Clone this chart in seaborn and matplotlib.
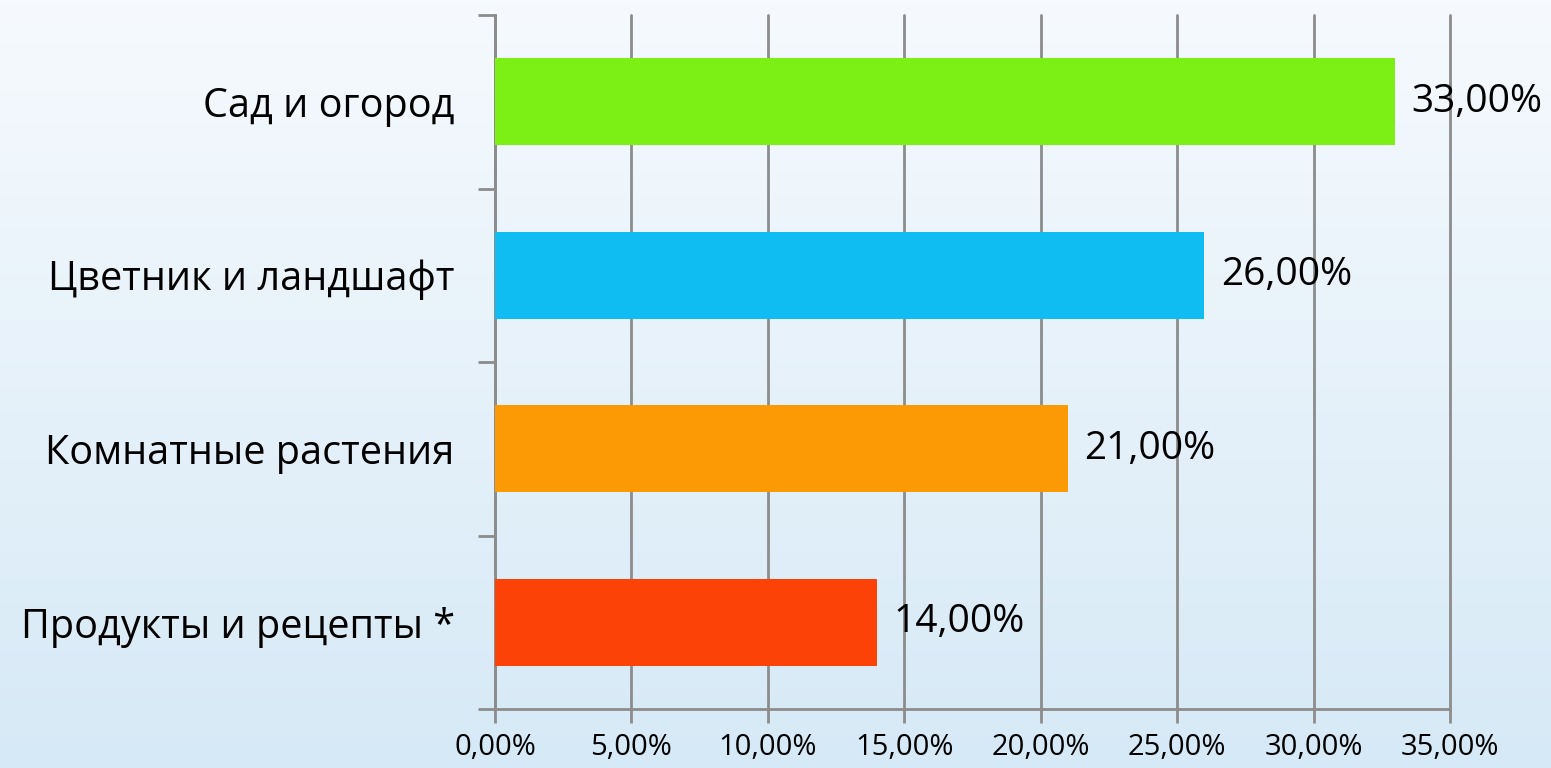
import numpy as np
import pandas as pd
import matplotlib
matplotlib.use("Agg")
import matplotlib.pyplot as plt
import seaborn as sns
from matplotlib.ticker import FuncFormatter, FixedLocator

categories = ["Сад и огород", "Цветник и ландшафт", "Комнатные растения", "Продукты и рецепты *"]
values = [33.0, 26.0, 21.0, 14.0]
colors = ["#7cf014", "#0fbdf2", "#fb9a05", "#fc4207"]
xticks = [0, 5, 10, 15, 20, 25, 30, 35]

sns.set_style("white")
plt.rcParams["font.family"] = ["Open Sans", "DejaVu Sans"]

df = pd.DataFrame({"cat": categories, "val": values})

fig = plt.figure(figsize=(15.51, 7.68), dpi=100)

# background gradient
bg = fig.add_axes([0, 0, 1, 1], zorder=-10)
grad = np.linspace(0, 1, 256).reshape(-1, 1)
top = np.array([0.965, 0.98, 0.995])
bot = np.array([0.84, 0.915, 0.965])
img = top[None, None, :] * (1 - grad[:, :, None]) + bot[None, None, :] * grad[:, :, None]
bg.imshow(img, aspect="auto", extent=[0, 1, 0, 1])
bg.axis("off")

ax = fig.add_axes([495 / 1551, 1 - 709 / 768, (1450 - 495) / 1551, (709 - 15) / 768])
ax.patch.set_alpha(0)

sns.barplot(data=df, x="val", y="cat", hue="cat", palette=colors, orient="h",
            width=0.5, ax=ax, legend=False, zorder=3, saturation=1,
            linewidth=0, edgecolor="none")

ax.set_xlim(0, 35)
ax.set_ylim(3.5, -0.5)
ax.set_xticks(xticks)
ax.xaxis.set_major_formatter(FuncFormatter(lambda v, p: f"{v:.2f}%".replace(".", ",")))
ax.grid(axis="x", color="#8c8c8c", linewidth=2, zorder=0)
ax.set_axisbelow(True)
ax.set_xlabel("")
ax.set_ylabel("")
for gl in ax.get_xgridlines():
    gl.set_clip_on(False)

for s in ["top", "right"]:
    ax.spines[s].set_visible(False)
for s in ["left", "bottom"]:
    ax.spines[s].set_color("#8c8c8c")
    ax.spines[s].set_linewidth(2)

ax.tick_params(axis="x", bottom=True, direction="out", length=10, width=2, color="#8c8c8c",
               labelsize=21, labelcolor="black", pad=7)
ax.tick_params(axis="y", which="major", left=True, length=0, labelsize=28.5, labelcolor="black", pad=29)
ax.yaxis.set_minor_locator(FixedLocator([-0.5, 0.5, 1.5, 2.5, 3.5]))
ax.tick_params(axis="y", which="minor", left=True, direction="out", length=12, width=2, color="#8c8c8c")

for i, v in enumerate(values):
    ax.text(v + 0.6, i, f"{v:.2f}%".replace(".", ","), va="center", ha="left",
            fontsize=28, color="black", zorder=5)

fig.savefig("out.png", dpi=100)
